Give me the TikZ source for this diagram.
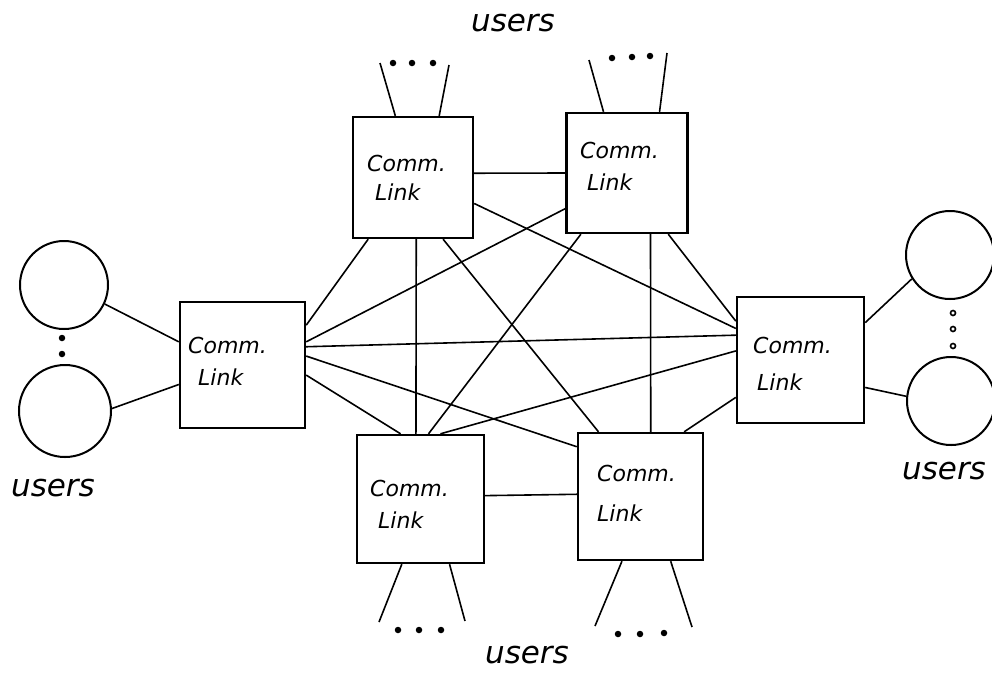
\documentclass[tikz,border=0pt]{standalone}
\usepackage{fontspec}
\newfontfamily\handfont{DejaVu Sans}
\begin{document}
\begin{tikzpicture}[x=1pt,y=-1pt,
  box/.style={draw, line width=2.4pt, rectangle, inner sep=0pt},
  conn/.style={line width=1.6pt},
  usercirc/.style={circle, draw, line width=2pt, minimum size=88pt, inner sep=0pt},
  lbl/.style={font=\handfont\itshape\fontsize{22}{24}\selectfont, inner sep=0pt, anchor=west},
  users/.style={font=\handfont\itshape\fontsize{31}{33}\selectfont, inner sep=0pt},
  bdot/.style={circle, fill, inner sep=0pt, minimum size=6.5pt},
  odot/.style={circle, draw, line width=1.6pt, inner sep=0pt, minimum size=5pt}]
\useasboundingbox (0,0) rectangle (992,673);
\fill[white] (0,0) rectangle (992,673);

% boxes
\node[box, minimum width=125pt, minimum height=126pt] (L)  at (242.5,365) {};
\node[box, minimum width=120pt, minimum height=121pt] (TL) at (413,177.5) {};
\node[box, minimum width=121pt, minimum height=120pt] (TR) at (627,173) {};
\node[box, minimum width=127pt, minimum height=126pt] (R)  at (800.5,360) {};
\node[box, minimum width=127pt, minimum height=128pt] (BL) at (420.5,499) {};
\node[box, minimum width=125pt, minimum height=127pt] (BR) at (640.5,496.5) {};

% box labels
\node[lbl] (tL1)  at (188,345) {Comm.};
\node[lbl] (tL2)  at (198,377) {Link};
\node[lbl] (tTL1) at (367,163) {Comm.};
\node[lbl] (tTL2) at (375,192) {Link};
\node[lbl] (tTR1) at (580,150) {Comm.};
\node[lbl] (tTR2) at (587,182) {Link};
\node[lbl] (tR1)  at (753,345) {Comm.};
\node[lbl] (tR2)  at (757,382) {Link};
\node[lbl] (tBL1) at (370,488) {Comm.};
\node[lbl] (tBL2) at (378,520) {Link};
\node[lbl] (tBR1) at (597,473) {Comm.};
\node[lbl] (tBR2) at (597,513) {Link};

% mesh connectors
\draw[conn] (TL.4) -- (TR.180);
\draw[conn] (BL.3.6) -- (BR.178.6);
\draw[conn] (TL.-87.2) -- (BL.94);
\draw[conn] (TR.-69) -- (BR.81.5);
\draw[conn] (L.32.6) -- (TL.234.6);
\draw[conn] (L.20.2) -- (TR.210.5);
\draw[conn] (L.16.1) -- (R.159.3);
\draw[conn] (L.8.2) -- (BR.142.8);
\draw[conn] (L.-9.1) -- (BL.107.8);
\draw[conn] (TL.-64.4) -- (BR.123.8);
\draw[conn] (TL.-23) -- (R.154.7);
\draw[conn] (TR.233.1) -- (BL.83.3);
\draw[conn] (TR.-56.3) -- (R.149.8);
\draw[conn] (R.172.8) -- (BL.73);
\draw[conn] (R.210.2) -- (BR.56.2);

% user circles
\node[usercirc] (c1) at (64,285) {};
\node[usercirc, minimum size=92pt] (c2) at (65,411) {};
\node[usercirc] (c3) at (950,255) {};
\node[usercirc] (c4) at (951,401) {};
\draw[conn] (c1.-25) -- (L.160.6);
\draw[conn] (c2.3.8) -- (L.197);
\draw[conn] (c3.212) -- (R.30.2);
\draw[conn] (c4.174.7) -- (R.-23);

\node[bdot] (dl1) at (62,338) {};
\node[bdot] (dl2) at (62,354) {};
\node[odot] (dr1) at (953,313) {};
\node[odot] (dr2) at (953,329) {};
\node[odot] (dr3) at (953,346) {};

% fans of users
\coordinate (fTLa) at (380,63);  \coordinate (fTLb) at (449,65);
\coordinate (fTRa) at (589,60);  \coordinate (fTRb) at (667,53);
\coordinate (fBLa) at (379,622); \coordinate (fBLb) at (465,621);
\coordinate (fBRa) at (595,626); \coordinate (fBRb) at (692,627);
\draw[conn] (TL.106.6) -- (fTLa);
\draw[conn] (TL.67.5) -- (fTLb);
\draw[conn] (TR.111.8) -- (fTRa);
\draw[conn] (TR.62.7) -- (fTRb);
\draw[conn] (BL.254.7) -- (fBLa);
\draw[conn] (BL.-66.7) -- (fBLb);
\draw[conn] (BR.254.6) -- (fBRa);
\draw[conn] (BR.-65.1) -- (fBRb);

\node[bdot] (dt1) at (393,63) {};
\node[bdot] (dt2) at (412,63) {};
\node[bdot] (dt3) at (433,63) {};
\node[bdot] (du1) at (612,58) {};
\node[bdot] (du2) at (632,57) {};
\node[bdot] (du3) at (650,56) {};
\node[bdot] (db1) at (398,630) {};
\node[bdot] (db2) at (419,630) {};
\node[bdot] (db3) at (441,630) {};
\node[bdot] (dc1) at (618,634) {};
\node[bdot] (dc2) at (640,634) {};
\node[bdot] (dc3) at (664,633) {};

% users labels
\node[users] (uTop)   at (513,23)  {users};
\node[users] (uBot)   at (527,655) {users};
\node[users] (uLeft)  at (53,488)  {users};
\node[users] (uRight) at (944,471) {users};
\end{tikzpicture}
\end{document}
